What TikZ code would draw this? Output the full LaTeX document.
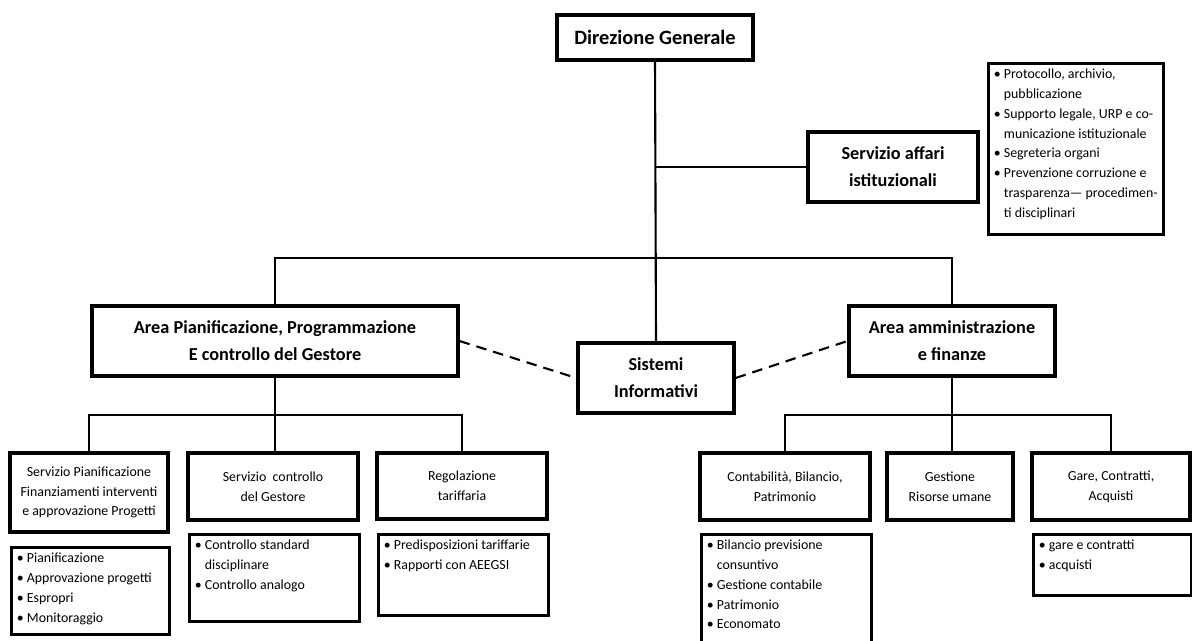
\documentclass[tikz,border=0pt]{standalone}
\usepackage{fontspec}
\setmainfont{Carlito}
\usetikzlibrary{calc, positioning}

\newcommand{\rientro}{\phantom{\textbullet\ }}
\newcommand{\elenco}[3]{\parbox[c][#2][t]{#1}{\vspace*{3pt}\leftskip=3pt\relax #3}}

\begin{document}
\begin{tikzpicture}[x=0.02cm, y=-0.02cm,
    box/.style={draw, line width=1.8pt, align=center, inner sep=2pt},
    titolo/.style={box, font=\fontsize{10.4}{15.3}\selectfont\bfseries},
    ufficio/.style={box, font=\fontsize{7.9}{11.3}\selectfont},
    lista/.style={draw, line width=1.8pt, anchor=north west, inner sep=0pt,
                  font=\fontsize{7.9}{11.3}\selectfont},
    linea/.style={line width=1.2pt}]
\useasboundingbox (0,0) rectangle (1192,640);

% Vertice e staff
\node[titolo, font=\fontsize{11.6}{15.3}\selectfont\bfseries, minimum width=3.92cm, minimum height=0.9cm] (dg) at (655,37.5) {Direzione Generale};
\node[titolo, minimum width=3.4cm, minimum height=1.4cm] (sai) at (893,167) {Servizio affari\\ istituzionali};
\node[lista] (sail) at (987,62) {\elenco{3.5cm}{3.42cm}{%
  \textbullet\ Protocollo, archivio,\\ \rientro pubblicazione\\
  \textbullet\ Supporto legale, URP e co-\\ \rientro municazione istituzionale\\
  \textbullet\ Segreteria organi\\
  \textbullet\ Prevenzione corruzione e\\ \rientro trasparenza--- procedimen-\\ \rientro ti disciplinari}};

% Aree
\node[titolo, minimum width=7.32cm, minimum height=1.4cm] (app) at (275,341) {Area Pianificazione, Programmazione\\ E controllo del Gestore};
\node[titolo, minimum width=3.12cm, minimum height=1.4cm] (si) at (656,378) {Sistemi\\ Informativi};
\node[titolo, minimum width=4.12cm, minimum height=1.4cm] (aaf) at (952,341) {Area amministrazione\\ e finanze};

% Servizi area pianificazione
\node[ufficio, minimum width=3.16cm, minimum height=1.58cm] (spf) at (89,492.5) {Servizio Pianificazione\\ Finanziamenti interventi\\ e approvazione Progetti};
\node[lista] (spfl) at (10,546) {\elenco{3.16cm}{1.74cm}{%
  \textbullet\ Pianificazione\\ \textbullet\ Approvazione progetti\\
  \textbullet\ Espropri\\ \textbullet\ Monitoraggio}};
\node[ufficio, minimum width=3.4cm, minimum height=1.34cm] (scg) at (273,486.5) {Servizio\ \ controllo\\ del Gestore};
\node[lista] (scgl) at (188,533) {\elenco{3.4cm}{1.74cm}{%
  \textbullet\ Controllo standard\\ \rientro disciplinare\\ \textbullet\ Controllo analogo}};
\node[ufficio, minimum width=3.4cm, minimum height=1.32cm] (rt) at (462,486) {Regolazione\\ tariffaria};
\node[lista] (rtl) at (377,533) {\elenco{3.4cm}{1.62cm}{%
  \textbullet\ Predisposizioni tariffarie\\ \textbullet\ Rapporti con AEEGSI}};

% Servizi area amministrazione
\node[ufficio, minimum width=3.4cm, minimum height=1.34cm] (cbp) at (785,486.5) {Contabilità, Bilancio,\\ Patrimonio};
\node[lista] (cbpl) at (700,533) {\elenco{3.4cm}{2.18cm}{%
  \textbullet\ Bilancio previsione\\ \rientro consuntivo\\ \textbullet\ Gestione contabile\\
  \textbullet\ Patrimonio\\ \textbullet\ Economato}};
\node[ufficio, minimum width=2.52cm, minimum height=1.34cm] (gru) at (950,486.5) {Gestione\\ Risorse umane};
\node[ufficio, minimum width=3.16cm, minimum height=1.34cm] (gca) at (1111,486.5) {Gare, Contratti,\\ Acquisti};
\node[lista] (gcal) at (1032,533) {\elenco{3.16cm}{1.22cm}{%
  \textbullet\ gare e contratti\\ \textbullet\ acquisti}};

% Collegamenti
\coordinate (tbus) at (655,258);
\coordinate (lbus) at (275,415);
\coordinate (rbus) at (952,415);
\draw[linea] (dg.south) -- (si.north);
\draw[linea] (sai.west) -- (sai.west -| dg.south);
\draw[linea] (app.north) |- (tbus) -| (aaf.north);
\draw[linea] (app.south) -- (app.south |- scg.north);
\draw[linea] (spf.north) |- (lbus) -| (rt.north);
\draw[linea] (aaf.south) -- (aaf.south |- gru.north);
\draw[linea] (cbp.north) |- (rbus) -| (gca.north);
\draw[linea, dashed, dash pattern=on 6pt off 4pt] (app.east) -- (si.west);
\draw[linea, dashed, dash pattern=on 6pt off 4pt] (si.east) -- (aaf.west);
\end{tikzpicture}
\end{document}
